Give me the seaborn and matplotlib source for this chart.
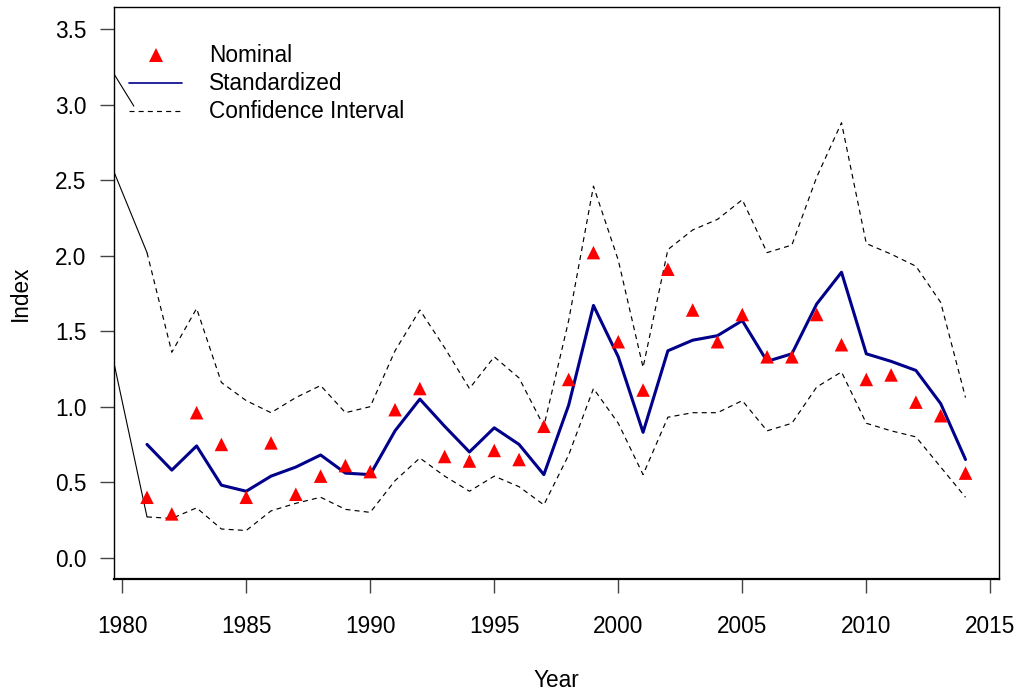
import numpy as np
import pandas as pd
import matplotlib
matplotlib.use("Agg")
import matplotlib.pyplot as plt
from matplotlib.lines import Line2D
import seaborn as sns

# ---- data -------------------------------------------------------------
years = list(range(1981, 2015))

nominal = [0.40, 0.29, 0.96, 0.75, 0.40, 0.76, 0.42, 0.54, 0.61, 0.57,
           0.98, 1.12, 0.67, 0.64, 0.71, 0.65, 0.87, 1.18, 2.02, 1.43,
           1.11, 1.91, 1.64, 1.43, 1.61, 1.33, 1.33, 1.61, 1.41, 1.18,
           1.21, 1.03, 0.94, 0.56]

standardized = [0.75, 0.58, 0.74, 0.48, 0.44, 0.54, 0.60, 0.68, 0.56, 0.55,
                0.84, 1.05, 0.87, 0.70, 0.86, 0.75, 0.55, 1.01, 1.67, 1.33,
                0.83, 1.37, 1.44, 1.47, 1.57, 1.30, 1.35, 1.68, 1.89, 1.35,
                1.30, 1.24, 1.02, 0.65]

ci_upper = [2.02, 1.36, 1.65, 1.16, 1.04, 0.96, 1.06, 1.14, 0.96, 1.00,
            1.37, 1.64, 1.39, 1.12, 1.33, 1.19, 0.87, 1.57, 2.46, 1.97,
            1.26, 2.04, 2.17, 2.24, 2.37, 2.02, 2.07, 2.52, 2.88, 2.08,
            2.01, 1.93, 1.69, 1.06]

ci_lower = [0.27, 0.26, 0.33, 0.19, 0.18, 0.31, 0.36, 0.40, 0.32, 0.30,
            0.51, 0.66, 0.54, 0.44, 0.54, 0.47, 0.35, 0.68, 1.12, 0.89,
            0.55, 0.93, 0.96, 0.96, 1.04, 0.84, 0.89, 1.13, 1.23, 0.89,
            0.84, 0.80, 0.60, 0.40]

# solid lead-in segments entering from the left margin
lead_x = [1979.68, 1981.0]
lead_upper = [2.55, 2.02]
lead_lower = [1.28, 0.27]
lead_legend_x = [1979.68, 1980.47]
lead_legend_y = [3.20, 2.99]

x_ticks = [1980, 1985, 1990, 1995, 2000, 2005, 2010, 2015]
y_ticks = [0.0, 0.5, 1.0, 1.5, 2.0, 2.5, 3.0, 3.5]

# ---- style ------------------------------------------------------------
sns.set_theme(style="white")
plt.rcParams["font.family"] = ["Liberation Sans", "DejaVu Sans"]
plt.rcParams["lines.scale_dashes"] = False
plt.rcParams["text.color"] = "black"
plt.rcParams["axes.labelcolor"] = "black"

NAVY = "#00008B"
RED = "#FF0000"
FS = 16.3

df = pd.DataFrame({"Year": years, "Nominal": nominal,
                   "Standardized": standardized,
                   "Upper": ci_upper, "Lower": ci_lower})

fig = plt.figure(figsize=(10.22, 6.91), dpi=100)
ax = fig.add_axes([0.1118, 0.1621, 0.8657, 0.8273])

dash = (0, (3.6, 3.0))
sns.lineplot(data=df, x="Year", y="Upper", ax=ax, color="black",
             linewidth=0.85, linestyle=dash, legend=False)
sns.lineplot(data=df, x="Year", y="Lower", ax=ax, color="black",
             linewidth=0.85, linestyle=dash, legend=False)
sns.lineplot(data=df, x="Year", y="Standardized", ax=ax, color=NAVY,
             linewidth=2.2, legend=False)
sns.scatterplot(data=df, x="Year", y="Nominal", ax=ax, marker="^",
                color=RED, s=95, edgecolor="none", legend=False, zorder=3)

for xs, ys in [(lead_x, lead_upper), (lead_x, lead_lower),
               (lead_legend_x, lead_legend_y)]:
    ax.plot(xs, ys, color="black", linewidth=0.8)

ax.set_xlim(1979.68, 2015.35)
ax.set_ylim(-0.141, 3.644)
ax.set_xticks(x_ticks)
ax.set_xticklabels([str(v) for v in x_ticks])
ax.set_yticks(y_ticks)
ax.set_yticklabels([f"{v:.1f}" for v in y_ticks])

ax.tick_params(axis="both", which="major", direction="out", length=10,
               width=1.0, color="#444444", labelsize=FS, labelcolor="black",
               left=True, bottom=True)
ax.tick_params(axis="x", pad=16)
ax.tick_params(axis="y", pad=10)
for sp in ax.spines.values():
    sp.set_visible(True)
    sp.set_color("black")
    sp.set_linewidth(1.0)
ax.spines["bottom"].set_linewidth(1.6)

ax.set_xlabel("Year", fontsize=FS, color="black")
ax.set_ylabel("Index", fontsize=FS, color="black")
ax.xaxis.set_label_coords(0.5, -0.157)
ax.yaxis.set_label_coords(-0.093, 0.5)
ax.grid(False)

handles = [
    Line2D([], [], marker="^", color=RED, linestyle="none", markersize=10,
           markeredgewidth=0),
    Line2D([], [], color=NAVY, linewidth=1.2),
    Line2D([], [], color="black", linewidth=0.85, linestyle=dash),
]
ax.legend(handles, ["Nominal", "Standardized", "Confidence Interval"],
          loc="upper left", bbox_to_anchor=(0.0166, 0.935), frameon=False,
          fontsize=FS, handlelength=2.35, handletextpad=1.18,
          labelspacing=0.22, borderpad=0, borderaxespad=0,
          labelcolor="black")

fig.savefig("out.png", dpi=100)
